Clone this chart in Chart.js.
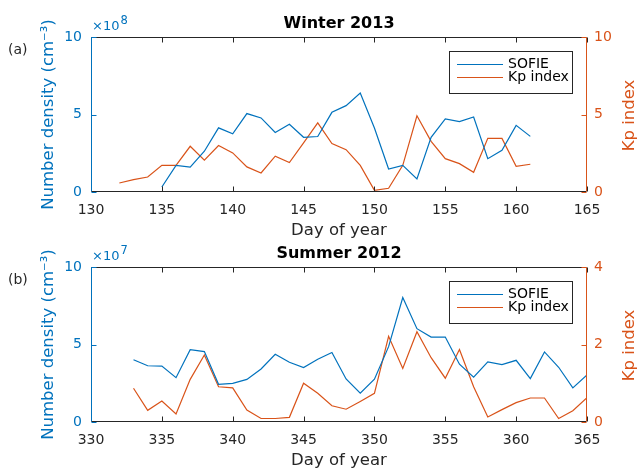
<!DOCTYPE html>
<html>
<head>
<meta charset="utf-8">
<script src="https://cdn.jsdelivr.net/npm/chart.js@4.4.0/dist/chart.umd.min.js"></script>
<style>
    html, body { margin: 0; padding: 0; background: #fff; }
    body { position: relative; width: 640px; height: 469px; overflow: hidden; }
    canvas { position: absolute; left: 0; }
    #winter { top: 0; }
    #summer { top: 230px; }
</style>
</head>
<body>
<canvas id="winter" width="640" height="245"></canvas>
<canvas id="summer" width="640" height="245"></canvas>
<script>
// Winter 2013 (densities in units of 1e8 cm^-3)
const winterSofieDays = [135, 136, 137, 138, 139, 140, 141, 142, 143, 144, 145, 146, 147, 148, 149, 150, 151, 152, 153, 154, 155, 156, 157, 158, 159, 160, 161]
const winterSofie     = [0.32, 1.72, 1.60, 2.63, 4.14, 3.75, 5.06, 4.78, 3.84, 4.37, 3.53, 3.58, 5.14, 5.57, 6.39, 4.13, 1.48, 1.72, 0.84, 3.53, 4.71, 4.54, 4.84, 2.15, 2.69, 4.30, 3.59]
const winterKpDays    = [132, 133, 134, 135, 136, 137, 138, 139, 140, 141, 142, 143, 144, 145, 146, 147, 148, 149, 150, 151, 152, 153, 154, 155, 156, 157, 158, 159, 160, 161]
const winterKp        = [0.58, 0.80, 0.97, 1.72, 1.72, 2.95, 2.05, 3.00, 2.52, 1.62, 1.23, 2.31, 1.90, 3.17, 4.46, 3.12, 2.73, 1.72, 0.11, 0.24, 1.72, 4.92, 3.27, 2.15, 1.83, 1.27, 3.46, 3.46, 1.66, 1.79]
const winterDayTicks  = [130, 135, 140, 145, 150, 155, 160, 165]

// Summer 2012 (densities in units of 1e7 cm^-3)
const summerDays      = [333, 334, 335, 336, 337, 338, 339, 340, 341, 342, 343, 344, 345, 346, 347, 348, 349, 350, 351, 352, 353, 354, 355, 356, 357, 358, 359, 360, 361, 362, 363, 364, 365]
const summerSofie     = [4.02, 3.63, 3.61, 2.86, 4.67, 4.54, 2.43, 2.49, 2.75, 3.42, 4.37, 3.85, 3.51, 4.05, 4.48, 2.78, 1.86, 2.76, 4.86, 8.03, 6.02, 5.48, 5.48, 3.73, 2.89, 3.88, 3.70, 3.98, 2.80, 4.52, 3.53, 2.20, 3.04]
const summerKp        = [0.87, 0.30, 0.54, 0.21, 1.10, 1.73, 0.91, 0.88, 0.31, 0.09, 0.09, 0.12, 1.00, 0.74, 0.42, 0.33, 0.53, 0.74, 2.21, 1.38, 2.33, 1.66, 1.13, 1.87, 0.91, 0.13, 0.32, 0.50, 0.62, 0.62, 0.09, 0.29, 0.63]
const summerDayTicks  = [330, 335, 340, 345, 350, 355, 360, 365]

const densityTicks  = [0, 5, 10]
const winterKpTicks = [0, 5, 10]
const summerKpTicks = [0, 2, 4]

const BLUE   = '#0072BD'
const ORANGE = '#D95319'
const DARK   = '#262626'
const FONT   = "'DejaVu Sans', sans-serif"

function toPoints(xs, ys) {
    return xs.map((x, i) => ({x: x, y: ys[i]}))
}

function strokeLine(ctx, x1, y1, x2, y2) {
    ctx.beginPath()
    ctx.moveTo(x1, y1)
    ctx.lineTo(x2, y2)
    ctx.stroke()
}

// box around the plot area with inward tick marks
const axesBox = {
    id: 'axesBox',
    afterDatasetsDraw(chart) {
        const {ctx, chartArea: a, scales} = chart
        const left   = Math.round(a.left) + 0.5
        const right  = Math.round(a.right) - 0.5
        const top    = Math.round(a.top) + 0.5
        const bottom = Math.round(a.bottom) - 0.5
        const len    = 5

        ctx.save()
        ctx.lineWidth = 1

        ctx.strokeStyle = DARK
        strokeLine(ctx, left, top, right, top)
        strokeLine(ctx, left, bottom, right, bottom)
        scales.x.ticks.forEach(t => {
            const x = Math.round(scales.x.getPixelForValue(t.value)) + 0.5
            strokeLine(ctx, x, bottom, x, bottom - len)
            strokeLine(ctx, x, top, x, top + len)
        })

        ctx.strokeStyle = BLUE
        strokeLine(ctx, left, top, left, bottom)
        scales.y.ticks.forEach(t => {
            const y = Math.round(scales.y.getPixelForValue(t.value)) + 0.5
            strokeLine(ctx, left, y, left + len, y)
        })

        ctx.strokeStyle = ORANGE
        strokeLine(ctx, right, top, right, bottom)
        scales.kp.ticks.forEach(t => {
            const y = Math.round(scales.kp.getPixelForValue(t.value)) + 0.5
            strokeLine(ctx, right, y, right - len, y)
        })
        ctx.restore()
    }
}

// title, panel letter, exponent note, right axis title and the boxed legend
const panelText = {
    id: 'panelText',
    afterDraw(chart, args, opts) {
        const {ctx, chartArea: a} = chart
        ctx.save()

        ctx.fillStyle = '#000'
        ctx.font = `bold 16px ${FONT}`
        ctx.textAlign = 'center'
        ctx.textBaseline = 'alphabetic'
        ctx.fillText(opts.title, (a.left + a.right) / 2, 28)

        // Kp axis title reads bottom to top, like the left one
        ctx.save()
        ctx.fillStyle = ORANGE
        ctx.font = `16.5px ${FONT}`
        ctx.translate(a.right + 47, (a.top + a.bottom) / 2 + 1)
        ctx.rotate(-Math.PI / 2)
        ctx.fillText('Kp index', 0, 0)
        ctx.restore()

        ctx.fillStyle = DARK
        ctx.font = `14px ${FONT}`
        ctx.textAlign = 'left'
        ctx.textBaseline = 'middle'
        ctx.fillText(opts.letter, 8, 50)

        ctx.fillStyle = BLUE
        ctx.textBaseline = 'alphabetic'
        ctx.font = `13px ${FONT}`
        ctx.fillText('\u00D710', a.left + 1, 30)
        const w = ctx.measureText('\u00D710').width
        ctx.font = `11.5px ${FONT}`
        ctx.fillText(opts.exponent, a.left + 1 + w + 1, 24)

        // legend
        const bx = a.right - 138, by = a.top + 14, bw = 123, bh = 42
        ctx.fillStyle = '#fff'
        ctx.fillRect(bx, by, bw, bh)
        ctx.strokeStyle = DARK
        ctx.lineWidth = 1
        ctx.strokeRect(bx + 0.5, by + 0.5, bw, bh)
        ctx.font = `14px ${FONT}`
        ctx.textBaseline = 'middle'
        chart.data.datasets.forEach((ds, i) => {
            const y = by + 13.5 + i * 13
            ctx.strokeStyle = ds.borderColor
            ctx.lineWidth = 1.2
            strokeLine(ctx, bx + 8, y, bx + 54, y)
            ctx.fillStyle = '#000'
            ctx.fillText(ds.label, bx + 59, y)
        })

        ctx.restore()
    }
}

function drawPanel(canvasId, panel) {
    const tickFont  = {family: FONT, size: 14}
    const titleFont = {family: FONT, size: 16.5}

    new Chart(document.getElementById(canvasId), {
        type   : 'line',
        data   : {
            datasets: [
                {
                    label      : 'SOFIE',
                    data       : toPoints(panel.sofieDays, panel.sofie),
                    borderColor: BLUE,
                    yAxisID    : 'y',
                },
                {
                    label      : 'Kp index',
                    data       : toPoints(panel.kpDays, panel.kp),
                    borderColor: ORANGE,
                    yAxisID    : 'kp',
                }
            ]
        },
        options: {
            responsive: false,
            animation : false,
            layout    : {padding: {top: 37, left: 0, right: 0, bottom: 0}},
            elements  : {
                point: {radius: 0},
                line : {borderWidth: 1.2, tension: 0, fill: false}
            },
            plugins   : {
                legend   : {display: false},
                tooltip  : {enabled: false},
                panelText: {title: panel.title, letter: panel.letter, exponent: panel.exponent}
            },
            scales    : {
                x : {
                    type   : 'linear',
                    min    : panel.dayTicks[0],
                    max    : panel.dayTicks[panel.dayTicks.length - 1],
                    afterBuildTicks: s => { s.ticks = panel.dayTicks.map(v => ({value: v})) },
                    ticks  : {padding: 10, color: DARK, font: tickFont},
                    grid   : {display: false, drawTicks: false},
                    border : {display: false},
                    title  : {display: true, text: 'Day of year', color: DARK, font: titleFont, padding: {top: 0, bottom: 4}},
                    afterFit: s => { s.height = 53 }
                },
                y : {
                    position: 'left',
                    min     : 0,
                    max     : 10,
                    afterBuildTicks: s => { s.ticks = densityTicks.map(v => ({value: v})) },
                    ticks   : {padding: 9, color: BLUE, font: tickFont},
                    grid    : {display: false, drawTicks: false},
                    border  : {display: false},
                    title   : {display: true, text: 'Number density (cm\u207B\u00B3)', color: BLUE, font: titleFont, padding: {top: 39, bottom: 0}},
                    afterFit: s => { s.width = 91 }
                },
                kp: {
                    position: 'right',
                    min     : 0,
                    max     : panel.kpTicks[panel.kpTicks.length - 1],
                    afterBuildTicks: s => { s.ticks = panel.kpTicks.map(v => ({value: v})) },
                    ticks   : {padding: 7, color: ORANGE, font: tickFont},
                    grid    : {display: false, drawTicks: false},
                    border  : {display: false},
                    afterFit: s => { s.width = 53 }
                }
            }
        },
        plugins: [axesBox, panelText]
    })
}

drawPanel('winter', {
    title    : 'Winter 2013',
    letter   : '(a)',
    exponent : '8',
    sofieDays: winterSofieDays,
    sofie    : winterSofie,
    kpDays   : winterKpDays,
    kp       : winterKp,
    dayTicks : winterDayTicks,
    kpTicks  : winterKpTicks
})

drawPanel('summer', {
    title    : 'Summer 2012',
    letter   : '(b)',
    exponent : '7',
    sofieDays: summerDays,
    sofie    : summerSofie,
    kpDays   : summerDays,
    kp       : summerKp,
    dayTicks : summerDayTicks,
    kpTicks  : summerKpTicks
})
</script>
</body>
</html>
